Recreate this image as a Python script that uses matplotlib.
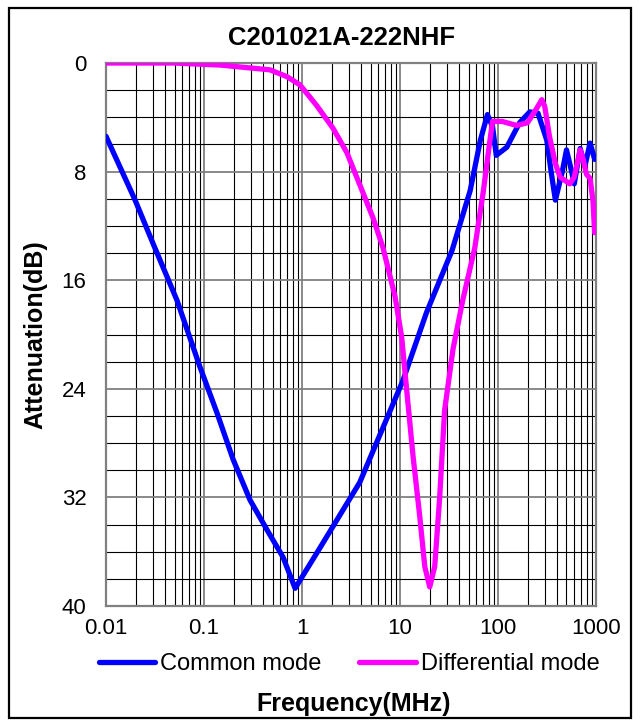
import matplotlib.pyplot as plt
from matplotlib.patches import Rectangle
from matplotlib.ticker import FixedLocator, NullFormatter, LogLocator

plt.rcParams['font.family'] = ['Liberation Sans', 'DejaVu Sans']

# Common mode
cm_freq = [0.01, 0.0198, 0.0302, 0.0531, 0.091, 0.136, 0.198, 0.295, 0.44, 0.64, 0.85,
           1.53, 3.88, 10.7, 18.6, 34, 52, 66, 78, 88, 96, 123, 166, 211, 256,
           315, 350, 385, 450, 500, 560, 600, 690, 770, 870, 970]
cm_att = [5.4, 10.1, 13.3, 17.5, 22.4, 25.8, 29.2, 32.2, 34.4, 36.4, 38.7,
          35.7, 30.9, 23.4, 18.4, 13.8, 9.4, 5.7, 3.8, 4.7, 6.8, 6.2, 4.4, 3.6, 3.7,
          5.7, 8.1, 10.1, 8.1, 6.4, 7.9, 8.9, 6.3, 7.6, 5.9, 7.1]

# Differential mode
dm_freq = [0.01, 0.05, 0.146, 0.47, 0.70, 0.95, 1.4, 2.07, 2.87, 3.9, 5.3, 6.7, 8.9, 10.4,
           11.7, 13.6, 15.9, 17.9, 20.1, 22.6, 25.4, 28.5, 34.7, 43.6, 58, 71, 82, 88, 110,
           155, 200, 250, 280, 300, 335, 385, 430, 540, 600, 690, 740, 800, 870, 930, 970]
dm_att = [0, 0, 0.15, 0.5, 1.0, 1.6, 3.1, 4.8, 6.6, 9.0, 11.4, 13.6, 17.2, 20.2,
          24.1, 29.0, 33.4, 37.1, 38.6, 37.1, 32.0, 25.6, 21.1, 17.5, 13.6, 9.4, 5.9, 4.3, 4.3,
          4.6, 4.4, 3.3, 2.7, 3.2, 5.4, 7.4, 8.4, 8.9, 8.4, 6.4, 7.1, 8.2, 8.5, 10.1, 12.5]

x_ticks = [0.01, 0.1, 1, 10, 100, 1000]
x_labels = ['0.01', '0.1', '1', '10', '100', '1000']
y_ticks = [0, 8, 16, 24, 32, 40]

fig = plt.figure(figsize=(6.43, 7.22), dpi=100)
ax = fig.add_axes([0.1649, 0.1607, 0.762, 0.752])

ax.plot(cm_freq, cm_att, color='#0000ff', lw=3.8, label='Common mode',
        solid_joinstyle='round', solid_capstyle='round', zorder=3)
ax.plot(dm_freq, dm_att, color='#ff00ff', lw=3.8, label='Differential mode',
        solid_joinstyle='round', solid_capstyle='round', zorder=3)

ax.set_xscale('log')
ax.set_xlim(0.01, 1000)
ax.set_ylim(40, 0)
ax.set_xticks(x_ticks)
ax.set_xticklabels(x_labels)
ax.xaxis.set_minor_locator(LogLocator(base=10, subs=range(2, 10)))
ax.xaxis.set_minor_formatter(NullFormatter())
ax.set_yticks(y_ticks)
ax.yaxis.set_minor_locator(FixedLocator(range(0, 41, 2)))

ax.grid(which='major', color='#808080', lw=1.3)
ax.grid(which='minor', color='#000000', lw=0.8)
ax.tick_params(which='both', length=0, labelsize=16)
ax.tick_params(axis='y', pad=14)
ax.tick_params(axis='x', pad=9)
for s in ax.spines.values():
    s.set_color('#808080')
    s.set_linewidth(1.6)

# titles placed in figure pixels, as in the reference
fig.text(342 / 643, 1 - 38 / 722, 'C201021A-222NHF', fontsize=18.5, fontweight='bold',
         ha='center', va='center')
fig.text(35 / 643, 1 - 335 / 722, 'Attenuation(dB)', fontsize=18, fontweight='bold',
         ha='center', va='center', rotation=90)
fig.text(354 / 643, 1 - 704 / 722, 'Frequency(MHz)', fontsize=18, fontweight='bold',
         ha='center', va='center')

fig.legend(loc='center', bbox_to_anchor=(0.543, 1 - 664 / 722), ncol=2, frameon=False,
           fontsize=17, handlelength=2.4, handletextpad=0.2, columnspacing=1.6)

fig.patches.append(Rectangle((9 / 643, 4 / 722), 622 / 643, 710 / 722, transform=fig.transFigure,
                             fill=False, edgecolor='black', lw=1.6))

fig.savefig('out.png', dpi=100)
